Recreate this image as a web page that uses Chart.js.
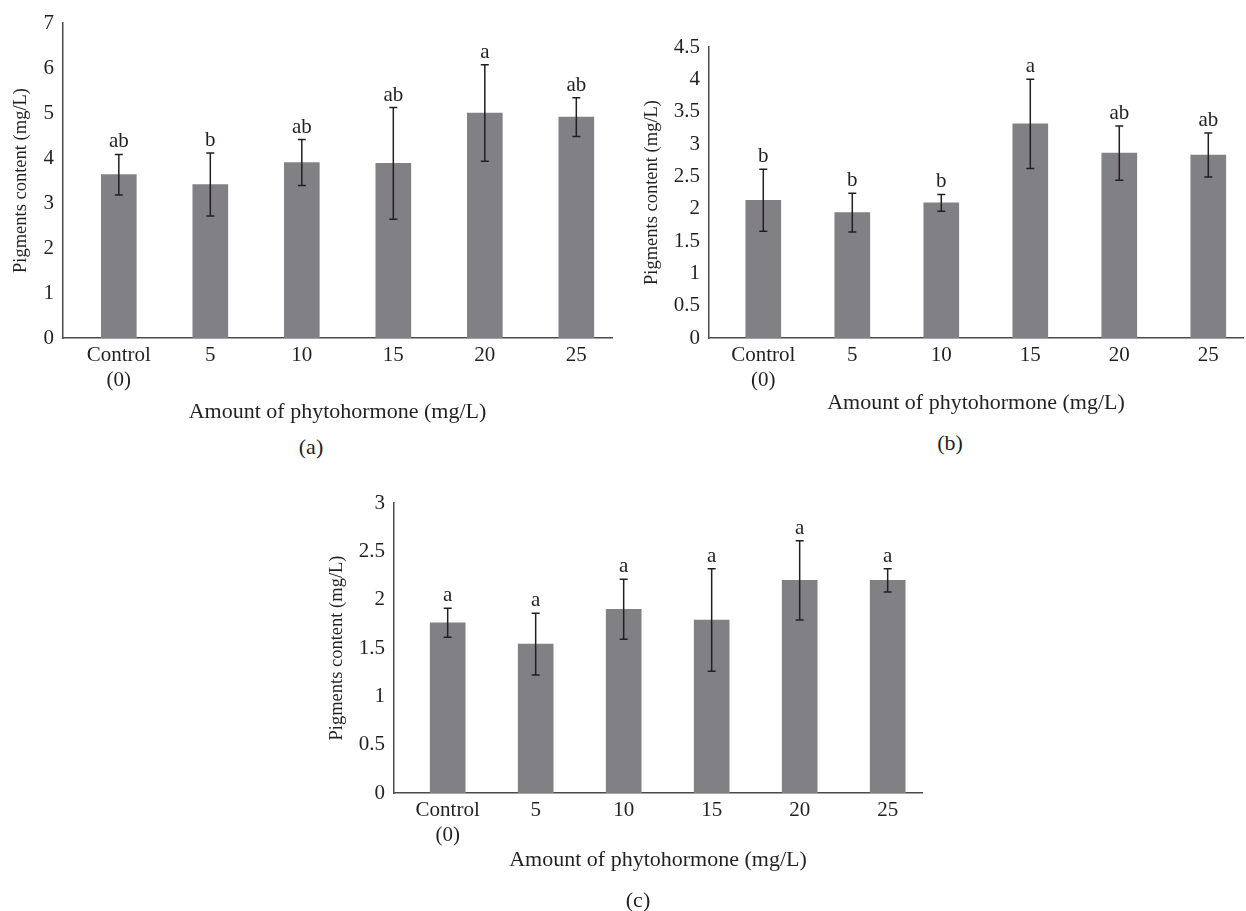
<!DOCTYPE html>
<html>
<head>
<meta charset="utf-8">
<script src="https://cdn.jsdelivr.net/npm/chart.js@4.4.1/dist/chart.umd.min.js"></script>
<style>
  body { margin: 0; background: #fff; width: 1246px; height: 911px; overflow: hidden; position: relative; }
  canvas { position: absolute; }
  .cap { position: absolute; font: 22px "Liberation Serif", serif; color: #231f20; transform: translate(-50%, -50%); }
</style>
</head>
<body>
<canvas id="chartA" width="625" height="430" style="left:0;top:0"></canvas>
<canvas id="chartB" width="616" height="430" style="left:630px;top:0"></canvas>
<canvas id="chartC" width="620" height="450" style="left:320px;top:460px"></canvas>
<div class="cap" style="left:311px;top:447px">(a)</div>
<div class="cap" style="left:950px;top:443px">(b)</div>
<div class="cap" style="left:638px;top:900px">(c)</div>
<script>
const categories = ['Control (0)', '5', '10', '15', '20', '25'];
const tickLabels = [['Control', '(0)'], '5', '10', '15', '20', '25'];

const valuesA = [3.63, 3.41, 3.90, 3.88, 5.00, 4.91];
const errorsA = [0.45, 0.70, 0.51, 1.24, 1.07, 0.43];
const lettersA = ['ab', 'b', 'ab', 'ab', 'a', 'ab'];

const valuesB = [2.13, 1.94, 2.09, 3.31, 2.86, 2.83];
const errorsB = [0.48, 0.30, 0.13, 0.69, 0.42, 0.34];
const lettersB = ['b', 'b', 'b', 'a', 'ab', 'ab'];

const valuesC = [1.76, 1.54, 1.90, 1.79, 2.20, 2.20];
const errorsC = [0.15, 0.32, 0.31, 0.53, 0.41, 0.12];
const lettersC = ['a', 'a', 'a', 'a', 'a', 'a'];

const ink = '#231f20';
Chart.defaults.color = ink;
Chart.defaults.font.family = '"Liberation Serif", serif';

// error bars + significance letters
const errorBars = {
  id: 'errorBars',
  afterDatasetsDraw(chart, args, opts) {
    const { ctx } = chart;
    const y = chart.scales.y;
    const meta = chart.getDatasetMeta(0);
    const data = chart.data.datasets[0].data;
    ctx.save();
    ctx.strokeStyle = ink;
    ctx.lineWidth = 1.5;
    ctx.fillStyle = ink;
    ctx.font = '21px "Liberation Serif", serif';
    ctx.textAlign = 'center';
    ctx.textBaseline = 'alphabetic';
    meta.data.forEach((bar, i) => {
      const v = data[i].y, e = opts.errors[i];
      const top = y.getPixelForValue(v + e);
      const bot = y.getPixelForValue(v - e);
      ctx.beginPath();
      ctx.moveTo(bar.x, top); ctx.lineTo(bar.x, bot);
      ctx.moveTo(bar.x - 4, top); ctx.lineTo(bar.x + 4, top);
      ctx.moveTo(bar.x - 4, bot); ctx.lineTo(bar.x + 4, bot);
      ctx.stroke();
      ctx.fillText(opts.letters[i], bar.x, top - 7);
    });
    ctx.restore();
  }
};

function makePanel(id, values, errors, letters, yMax, yStep, lay) {
  return new Chart(document.getElementById(id), {
    type: 'bar',
    data: {
      datasets: [{
        data: categories.map((c, i) => ({ x: i, y: values[i] })),
        backgroundColor: '#818185',
        barThickness: 35
      }]
    },
    plugins: [errorBars],
    options: {
      responsive: false,
      animation: false,
      layout: { padding: { left: 0, right: lay.right, top: lay.top, bottom: lay.bottom } },
      plugins: {
        legend: { display: false },
        tooltip: { enabled: false },
        errorBars: { errors: errors, letters: letters }
      },
      scales: {
        x: {
          type: 'linear',
          offset: false,
          min: -0.61,
          max: 5.39,
          afterBuildTicks: (axis) => { axis.ticks = categories.map((c, i) => ({ value: i })); },
          afterFit: (axis) => { axis.height = lay.xh; },
          grid: { display: false, drawTicks: false, offset: false },
          border: { display: true, color: '#4a4a4a', width: 1.5 },
          ticks: {
            padding: 5,
            maxRotation: 0,
            autoSkip: false,
            font: { size: 21, lineHeight: 1.2 },
            callback: (v) => tickLabels[v]
          },
          title: {
            display: true,
            text: 'Amount of phytohormone (mg/L)',
            font: { size: 22, lineHeight: 1.2 },
            padding: 0
          }
        },
        y: {
          min: 0,
          max: yMax,
          afterFit: (axis) => { axis.width = lay.yw; },
          grid: { display: false, drawTicks: false },
          border: { display: true, color: '#4a4a4a', width: 1.5 },
          ticks: { stepSize: yStep, padding: 9, font: { size: 21 }, callback: (v) => String(v) },
          title: {
            display: true,
            text: 'Pigments content (mg/L)',
            font: { size: 18.5, lineHeight: 1.2 },
            padding: { top: lay.ytp, bottom: 0 }
          }
        }
      }
    }
  });
}

makePanel('chartA', valuesA, errorsA, lettersA, 7, 1,
  { yw: 63, right: 13, top: 23, bottom: 5, xh: 87, ytp: 10 });
makePanel('chartB', valuesB, errorsB, lettersB, 4.5, 0.5,
  { yw: 79, right: 3, top: 47, bottom: 14, xh: 78, ytp: 11 });
makePanel('chartC', valuesC, errorsC, lettersC, 3, 0.5,
  { yw: 74, right: 18, top: 43, bottom: 37, xh: 80, ytp: 6 });
</script>
</body>
</html>
